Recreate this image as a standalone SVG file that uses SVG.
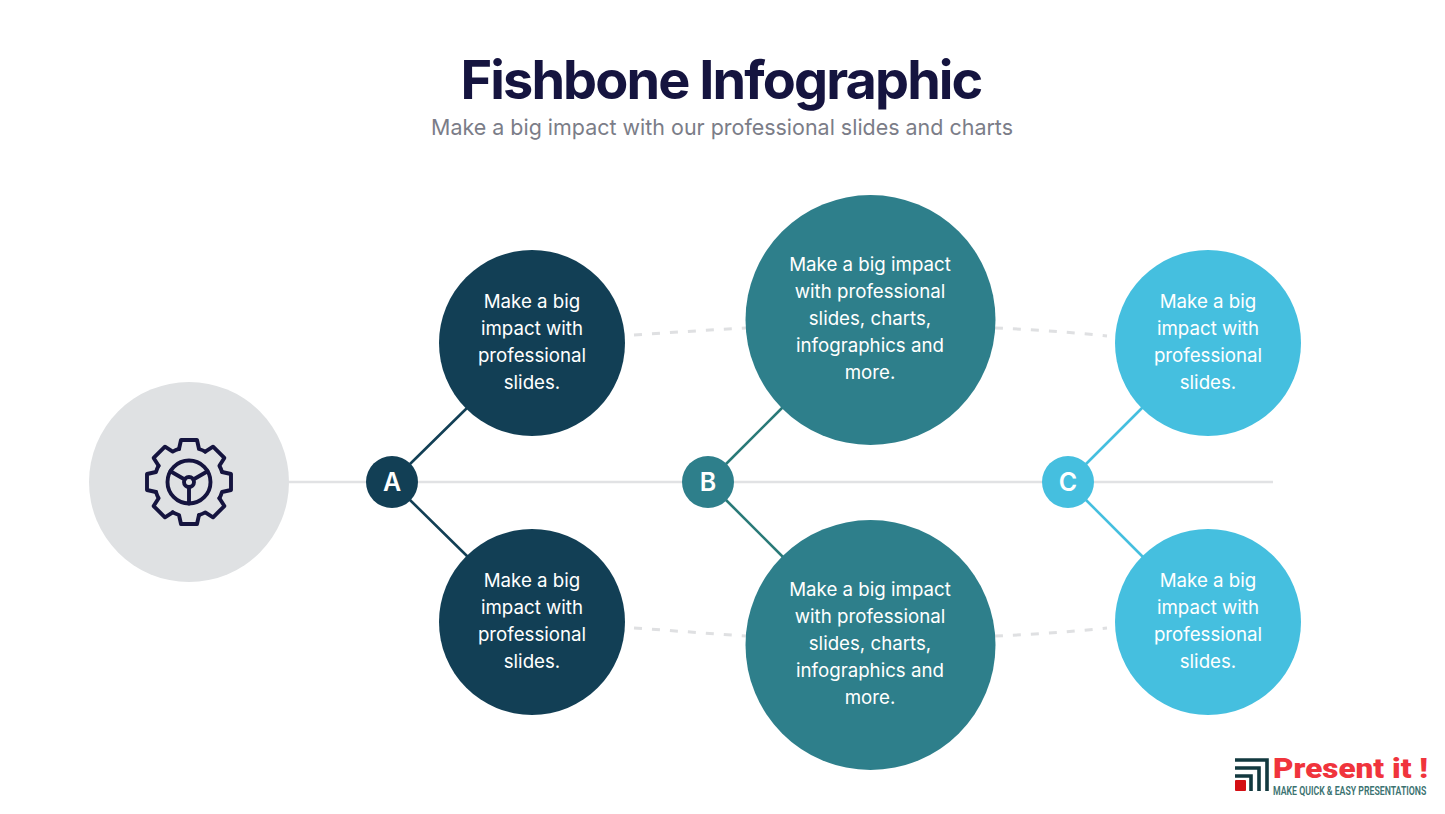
<svg xmlns="http://www.w3.org/2000/svg" xmlns:xlink="http://www.w3.org/1999/xlink" width="1445" height="814" viewBox="0 0 1445 814">
<style>
text{font-family:"Inter","Open Sans","Liberation Sans",sans-serif}
.t{font-size:18.7px;fill:#fff;text-anchor:middle}
.l{font-size:25px;font-weight:600;fill:#fff;text-anchor:middle}
.dash{fill:none;stroke:#dfe0e2;stroke-width:3;stroke-dasharray:8 10}
.gear{fill:none;stroke:#15143f;stroke-width:3.9;stroke-linecap:round;stroke-linejoin:round}
.a{fill:#123f55}.b{fill:#2e7f8b}.c{fill:#45bfdf}
</style>
<defs>
<path id="tooth" d="M-10 -33L-8 -42H8L10 -33A34.500 34.500 0 0 1 16.300 -30.400"/>
</defs>
<rect width="1445" height="814" fill="#fff"/>
<g id="title">
<text x="721" y="99" text-anchor="middle" font-size="54" font-weight="700" fill="#15143f" letter-spacing="-1.9">Fishbone Infographic</text>
<text x="722" y="135" text-anchor="middle" font-size="22" fill="#7b7d88" textLength="582" lengthAdjust="spacingAndGlyphs">Make a big impact with our professional slides and charts</text>
</g>
<g id="connectors">
<path d="M289 482H1273" stroke="#e1e2e4" stroke-width="2.5" fill="none"/>
<path d="M410 464L468 407M410 500L468 557" stroke="#123f55" stroke-width="2.6" fill="none"/>
<path d="M726 464L783 407M726 500L783 557" stroke="#2a7a78" stroke-width="2.6" fill="none"/>
<path d="M1086 464L1143 407M1086 500L1143 557" stroke="#45bfdf" stroke-width="2.6" fill="none"/>
<path class="dash" d="M634 335Q690 331 746 328"/>
<path class="dash" d="M995 328Q1050 330 1107 336"/>
<path class="dash" d="M634 628Q690 632 746 636"/>
<path class="dash" d="M995 636Q1050 634 1107 628"/>
</g>
<g id="gear-node">
<circle cx="189" cy="482" r="100" fill="#dfe1e3"/>
<g class="gear" transform="translate(189 482)">
<use xlink:href="#tooth"/><use xlink:href="#tooth" transform="rotate(45)"/><use xlink:href="#tooth" transform="rotate(90)"/><use xlink:href="#tooth" transform="rotate(135)"/><use xlink:href="#tooth" transform="rotate(180)"/><use xlink:href="#tooth" transform="rotate(225)"/><use xlink:href="#tooth" transform="rotate(270)"/><use xlink:href="#tooth" transform="rotate(315)"/>
<circle r="21.500"/><circle r="5"/>
<path d="M0 5V21.500M-4.300 -2.500L-18.600 -10.700M4.300 -2.500L18.600 -10.700"/>
</g>
</g>
<g id="label-a"><circle class="a" cx="392" cy="482" r="26"/><text class="l" x="392" y="491">A</text></g>
<g id="label-b"><circle class="b" cx="708" cy="482" r="26"/><text class="l" x="708" y="491">B</text></g>
<g id="label-c"><circle class="c" cx="1068" cy="482" r="26"/><text class="l" x="1068" y="491">C</text></g>
<g id="a-top"><circle class="a" cx="532" cy="343" r="93"/>
<text class="t" x="532" y="308">Make a big</text><text class="t" x="532" y="335">impact with</text><text class="t" x="532" y="362">professional</text><text class="t" x="532" y="389">slides.</text></g>
<g id="a-bottom"><circle class="a" cx="532" cy="622" r="93"/>
<text class="t" x="532" y="587">Make a big</text><text class="t" x="532" y="614">impact with</text><text class="t" x="532" y="641">professional</text><text class="t" x="532" y="668">slides.</text></g>
<g id="b-top"><circle class="b" cx="870.500" cy="320" r="125"/>
<text class="t" x="870" y="271">Make a big impact</text><text class="t" x="870" y="298">with professional</text><text class="t" x="870" y="325">slides, charts,</text><text class="t" x="870" y="352">infographics and</text><text class="t" x="870" y="379">more.</text></g>
<g id="b-bottom"><circle class="b" cx="870.500" cy="645" r="125"/>
<text class="t" x="870" y="596">Make a big impact</text><text class="t" x="870" y="623">with professional</text><text class="t" x="870" y="650">slides, charts,</text><text class="t" x="870" y="677">infographics and</text><text class="t" x="870" y="704">more.</text></g>
<g id="c-top"><circle class="c" cx="1208" cy="343" r="93"/>
<text class="t" x="1208" y="308">Make a big</text><text class="t" x="1208" y="335">impact with</text><text class="t" x="1208" y="362">professional</text><text class="t" x="1208" y="389">slides.</text></g>
<g id="c-bottom"><circle class="c" cx="1208" cy="622" r="93"/>
<text class="t" x="1208" y="587">Make a big</text><text class="t" x="1208" y="614">impact with</text><text class="t" x="1208" y="641">professional</text><text class="t" x="1208" y="668">slides.</text></g>
<g id="logo">
<path d="M1235 760H1267V791M1235 768H1259V791M1235 776H1251V791" fill="none" stroke="#12393f" stroke-width="3.600"/>
<rect x="1235" y="780" width="11" height="11" rx="1" fill="#d40f14"/>
<text x="1273" y="778" font-size="28" font-weight="900" fill="#f0343c" textLength="155" lengthAdjust="spacingAndGlyphs" style="font-family:Roboto,'Liberation Sans',sans-serif">Present it !</text>
<text transform="translate(1273 795) scale(.7 1)" font-size="12.500" font-weight="600" fill="#3a7270" style="font-family:Roboto,'Liberation Sans',sans-serif">MAKE QUICK &amp; EASY PRESENTATIONS</text>
</g>
</svg>
